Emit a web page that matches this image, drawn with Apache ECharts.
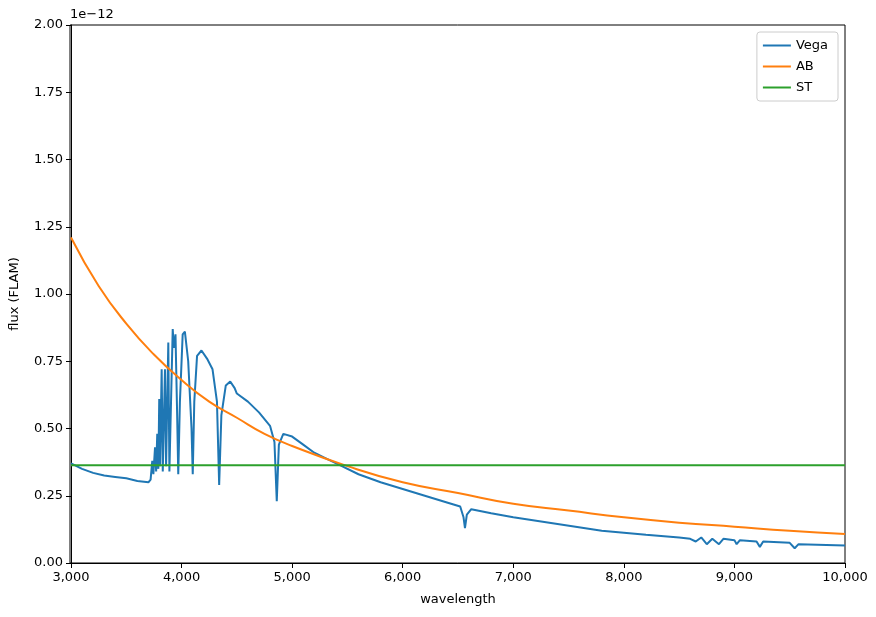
<!DOCTYPE html>
<html>
<head>
<meta charset="utf-8">
<script src="https://cdn.jsdelivr.net/npm/echarts@6/dist/echarts.min.js"></script>
<style>html,body{margin:0;padding:0;background:#fff}#chart{width:876px;height:617px}</style>
</head>
<body>
<div id="chart"></div>
<script>
// flux values in units of 1e-12
var vegaWave = [3000,3100,3200,3300,3400,3500,3600,3700,3720,3735,3745,3760,3770,3780,3790,3798,3805,3820,3830,3850,3860,3880,3890,3920,3930,3945,3960,3970,3985,4010,4030,4060,4090,4101,4115,4140,4180,4230,4280,4320,4340,4360,4400,4440,4480,4500,4600,4700,4800,4840,4861,4880,4920,5000,5100,5200,5300,5450,5600,5800,6000,6200,6400,6520,6550,6563,6580,6620,6800,7000,7400,7800,8200,8500,8600,8650,8700,8750,8800,8860,8900,9000,9020,9050,9200,9230,9260,9500,9545,9580,10000]
var vegaFlux = [0.37,0.35,0.335,0.325,0.32,0.315,0.305,0.30,0.31,0.38,0.33,0.43,0.34,0.48,0.35,0.61,0.36,0.72,0.34,0.72,0.36,0.82,0.34,0.87,0.80,0.85,0.55,0.33,0.60,0.85,0.86,0.75,0.50,0.33,0.60,0.77,0.79,0.76,0.72,0.60,0.29,0.55,0.66,0.675,0.65,0.63,0.60,0.56,0.51,0.45,0.23,0.44,0.48,0.47,0.44,0.41,0.39,0.36,0.33,0.30,0.275,0.25,0.225,0.21,0.17,0.13,0.18,0.20,0.185,0.17,0.145,0.12,0.105,0.095,0.09,0.08,0.095,0.07,0.09,0.07,0.09,0.085,0.07,0.085,0.08,0.06,0.08,0.075,0.055,0.07,0.065]
var abWave = [3000,3250,3500,3750,4000,4250,4500,4750,5000,5500,6000,6500,7000,7500,8000,8500,9000,9500,10000]
var abFlux = [1.21,1.03,0.89,0.775,0.68,0.60,0.54,0.48,0.435,0.36,0.30,0.26,0.22,0.195,0.17,0.15,0.135,0.12,0.108]
var stWave = [3000,10000]
var stFlux = [0.363,0.363]

function pairs(xs, ys) { return xs.map(function (x, i) { return [x, ys[i]] }) }

var chart = echarts.init(document.getElementById('chart'))
var font = 'DejaVu Sans'
chart.setOption({
  animation: false,
  textStyle: { fontFamily: font },
  color: ['#1f77b4', '#ff7f0e', '#2ca02c'],
  grid: { left: 70, right: 31, top: 25, bottom: 54 },
  graphic: [{ type: 'text', left: 70, top: 8, style: { text: '1e\u221212', font: '13px DejaVu Sans', fill: '#000' } }],
  legend: {
    right: 38, top: 32, orient: 'vertical', itemWidth: 28, itemHeight: 2, itemGap: 8,
    icon: 'rect', borderColor: '#ccc', borderWidth: 1, borderRadius: 3, padding: [7, 10, 7, 6],
    textStyle: { fontSize: 13, color: '#000' }
  },
  xAxis: {
    type: 'value', min: 3000, max: 10000, interval: 1000,
    name: 'wavelength', nameLocation: 'middle', nameGap: 30, nameTextStyle: { fontSize: 13, color: '#000' },
    axisLine: { onZero: false, lineStyle: { color: '#000' } },
    axisTick: { lineStyle: { color: '#000' } },
    axisLabel: { color: '#000', fontSize: 13 },
    splitLine: { show: false }
  },
  yAxis: {
    type: 'value', min: 0, max: 2, interval: 0.25,
    name: 'flux (FLAM)', nameLocation: 'middle', nameGap: 50, nameTextStyle: { fontSize: 13, color: '#000' },
    axisLine: { show: true, lineStyle: { color: '#000' } },
    axisTick: { show: true, lineStyle: { color: '#000' } },
    axisLabel: { color: '#000', fontSize: 13, formatter: function (v) { return v.toFixed(2) } },
    splitLine: { show: false }
  },
  series: [
    { name: 'Vega', type: 'line', showSymbol: false, data: pairs(vegaWave, vegaFlux), lineStyle: { width: 2 } },
    { name: 'AB', type: 'line', showSymbol: false, smooth: true, data: pairs(abWave, abFlux), lineStyle: { width: 2 } },
    { name: 'ST', type: 'line', showSymbol: false, data: pairs(stWave, stFlux), lineStyle: { width: 2 } }
  ]
})
// frame on top/right like matplotlib
chart.setOption({ graphic: [{ type: 'text', left: 70, top: 8, style: { text: '1e\u221212', font: '13px DejaVu Sans', fill: '#000' } },
  { type: 'rect', shape: { x: 70, y: 25, width: 775, height: 538 }, style: { fill: 'none', stroke: '#000', lineWidth: 1 }, silent: true }] })
</script>
</body>
</html>
